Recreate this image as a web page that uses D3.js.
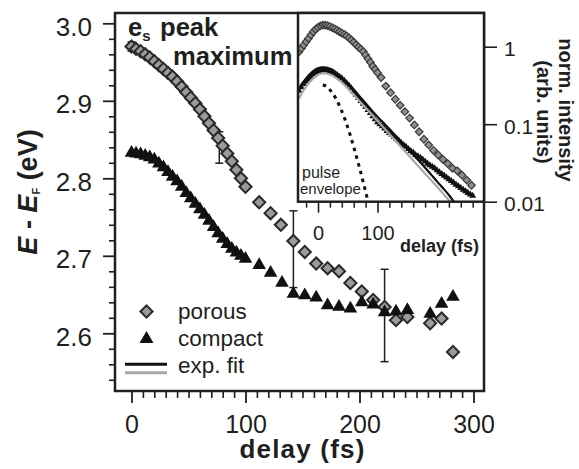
<!DOCTYPE html>
<html>
<head>
<meta charset="utf-8">
<script src="https://cdn.jsdelivr.net/npm/d3@7"></script>
<style>
  html, body { margin: 0; padding: 0; background: #fff; }
  svg { display: block; font-family: "Liberation Sans", Arial, Helvetica, sans-serif; }
</style>
</head>
<body>
<svg id="chart" width="579" height="469"></svg>
<script>
// ---------- main panel: e_s peak maximum energy vs. pump-probe delay ----------
const porousDelay = [0, 4, 8, 12, 16, 20, 24, 28, 32, 36, 40, 44, 48, 52, 56, 60, 64, 68, 72, 76, 80, 84, 88, 92, 96, 100,
  112, 122, 131, 142, 152, 162, 172, 182, 192, 202, 212, 222, 232, 242, 262, 272, 282];
const porousEnergy = [2.970, 2.967, 2.964, 2.960, 2.956, 2.951, 2.946, 2.941, 2.936, 2.931, 2.925, 2.918, 2.911, 2.904, 2.897,
  2.889, 2.880, 2.871, 2.862, 2.852, 2.842, 2.832, 2.822, 2.811, 2.800, 2.789,
  2.769, 2.755, 2.740, 2.719, 2.705, 2.690, 2.684, 2.680, 2.665, 2.654, 2.643, 2.634, 2.617, 2.621, 2.613, 2.619, 2.576];

const compactDelay = [0, 4, 8, 12, 16, 20, 24, 28, 32, 36, 40, 44, 48, 52, 56, 60, 64, 68, 72, 76, 80, 84, 88, 92, 96, 100,
  112, 122, 132, 142, 152, 162, 172, 182, 192, 202, 212, 222, 232, 242, 262, 272, 282];
const compactEnergy = [2.833, 2.832, 2.831, 2.829, 2.827, 2.824, 2.819, 2.814, 2.808, 2.802, 2.796, 2.789, 2.781, 2.774, 2.767,
  2.760, 2.753, 2.745, 2.737, 2.729, 2.722, 2.715, 2.709, 2.704, 2.700, 2.696,
  2.688, 2.678, 2.665, 2.651, 2.649, 2.646, 2.636, 2.634, 2.632, 2.640, 2.637, 2.627, 2.628, 2.630, 2.625, 2.638, 2.647];

// error bars (delay, lower and upper energy)
const errDelay = [0, 77, 142, 222];
const errLow = [2.964, 2.8195, 2.659, 2.5634];
const errHigh = [2.976, 2.860, 2.758, 2.6826];

const mainXTicks = [0, 100, 200, 300];
const mainYTicks = [2.6, 2.7, 2.8, 2.9, 3.0];

// ---------- inset: normalised intensity (log scale) vs. delay ----------
const insetPorousDelay = [-32, -28, -24, -20, -16, -12, -8, -4, 0, 4, 8, 12, 16, 20, 24, 28, 32, 36, 40, 44, 48, 52, 56, 60,
  64, 68, 72, 76, 80, 84, 88, 92, 96, 100, 106, 114, 122, 130, 138, 146, 154, 162, 170, 178, 186, 194, 202, 210, 218,
  226, 234, 242, 250, 258];
const insetPorousInt = [0.86, 0.95, 1.05, 1.16, 1.28, 1.42, 1.56, 1.68, 1.78, 1.86, 1.90, 1.90, 1.87, 1.82, 1.76, 1.70,
  1.63, 1.56, 1.50, 1.44, 1.38, 1.30, 1.22, 1.14, 1.06, 0.99, 0.93, 0.87, 0.78, 0.70, 0.63, 0.56, 0.51, 0.46, 0.40,
  0.31, 0.255, 0.21, 0.175, 0.145, 0.12, 0.098, 0.080, 0.064, 0.054, 0.046, 0.040, 0.035, 0.031, 0.027, 0.025,
  0.022, 0.019, 0.0163];

const insetCompactDelay = [-32, -28, -24, -20, -16, -12, -8, -4, 0, 4, 8, 12, 16, 20, 24, 28, 32, 36, 40, 44, 48, 52, 56,
  60, 64, 68, 72, 76, 80, 84, 88, 92, 96, 100, 104, 108, 112, 116, 120, 124, 128, 132, 136, 140, 144, 148, 152, 156,
  160, 164, 168, 172, 176, 180, 184, 188, 192, 196, 200, 204, 208, 212, 216, 220, 224, 228, 232, 236, 240, 244, 248,
  252, 256, 260];
const insetCompactInt = [0.27, 0.30, 0.33, 0.355, 0.38, 0.41, 0.44, 0.465, 0.485, 0.495, 0.50, 0.50, 0.495, 0.485, 0.47,
  0.45, 0.43, 0.41, 0.39, 0.365, 0.34, 0.315, 0.29, 0.265, 0.24, 0.22, 0.20, 0.183, 0.168, 0.153, 0.14, 0.127, 0.116,
  0.106, 0.100, 0.094, 0.088, 0.082, 0.077, 0.0735, 0.069, 0.065, 0.061, 0.057, 0.054, 0.051, 0.048, 0.045, 0.043,
  0.040, 0.0385, 0.037, 0.035, 0.033, 0.031, 0.0295, 0.0283, 0.027, 0.0255, 0.024, 0.0228, 0.0217, 0.0205, 0.0195,
  0.0185, 0.0175, 0.0166, 0.0158, 0.015, 0.0143, 0.0136, 0.013, 0.0124, 0.0119];

// exponential fits (black and grey)
const fitBlackDelay = [-32, -26, -20, -14, -8, -2, 4, 10, 16, 22, 28, 34, 40, 50, 60, 70, 80, 90, 100, 110, 120, 130, 140,
  150, 160, 170, 180, 190, 200, 210, 220, 230];
const fitBlackInt = [0.29, 0.34, 0.39, 0.44, 0.485, 0.52, 0.538, 0.542, 0.532, 0.51, 0.48, 0.44, 0.40, 0.335, 0.28, 0.228,
  0.186, 0.152, 0.125, 0.104, 0.0865, 0.0715, 0.059, 0.049, 0.0405, 0.0335, 0.0275, 0.0225, 0.0183, 0.015, 0.0122, 0.0096];
const fitGrayDelay = [-32, -26, -20, -14, -8, -2, 4, 10, 16, 22, 28, 34, 40, 50, 60, 70, 80, 90, 100, 110, 120, 130, 140,
  150, 160, 170, 180, 190, 200, 210, 220, 228];
const fitGrayInt = [0.215, 0.26, 0.305, 0.35, 0.39, 0.425, 0.448, 0.455, 0.448, 0.43, 0.405, 0.375, 0.345, 0.29, 0.24,
  0.198, 0.163, 0.134, 0.11, 0.091, 0.075, 0.0615, 0.0505, 0.0415, 0.034, 0.028, 0.023, 0.019, 0.0156, 0.0128, 0.0105,
  0.0092];

// laser pulse envelope (dotted)
const pulseDelay = [8, 15, 22, 30, 38, 46, 54, 62, 70, 78, 86];
const pulseInt = [0.32, 0.305, 0.265, 0.215, 0.16, 0.112, 0.073, 0.045, 0.027, 0.0155, 0.0088];

const insetXTicks = [0, 100];
const insetYTicks = [0.01, 0.1, 1];
const insetYTickLabels = ["0.01", "0.1", "1"];

// ---------- layout ----------
const svg = d3.select("#chart");
const ink = "#1f1f1f";
const frame = { l: 115, r: 484, t: 13, b: 391 };
const inset = { l: 298, r: 484, t: 13, b: 201.7 };

const x = d3.scaleLinear().domain([0, 300]).range([131.5, 473.5]);
const y = d3.scaleLinear().domain([2.6, 3.0]).range([333.3, 23.3]);

const xi = d3.scaleLinear().domain([0, 100]).range([318, 377.5]);
const yi = d3.scaleLog().domain([0.01, 1]).range([201.7, 46.7]);

const diamond = s => d3.symbol(d3.symbolSquare, s * s)();
const triangle = a => d3.symbol(d3.symbolTriangle, a)();

// ---------- main axes ----------
const xMinor = d3.range(0, 301, 10).filter(v => v % 100 !== 0);
svg.append("g").attr("transform", `translate(0,${frame.b})`)
  .call(d3.axisBottom(x).tickValues(xMinor).tickSize(7).tickFormat(""))
  .call(g => g.select(".domain").remove())
  .call(g => g.selectAll("line").attr("stroke", ink).attr("stroke-width", 1.6));
svg.append("g").attr("transform", `translate(0,${frame.b})`)
  .call(d3.axisBottom(x).tickValues(mainXTicks).tickSize(12).tickPadding(12).tickFormat(d3.format("d")))
  .call(g => g.select(".domain").remove())
  .call(g => g.selectAll("line").attr("stroke", ink).attr("stroke-width", 1.8))
  .call(g => g.selectAll("text").attr("fill", ink).attr("font-size", 25).attr("font-family", "Liberation Sans, Arial, sans-serif"));

const yMinor = d3.range(0, 24).map(i => +(2.54 + i * 0.02).toFixed(2)).filter(v => v <= 3.0 && Math.round(v * 100) % 10 !== 0);
svg.append("g").attr("transform", `translate(${frame.l},0)`)
  .call(d3.axisLeft(y).tickValues(yMinor).tickSize(6).tickFormat(""))
  .call(g => g.select(".domain").remove())
  .call(g => g.selectAll("line").attr("stroke", ink).attr("stroke-width", 1.6));
svg.append("g").attr("transform", `translate(${frame.l},0)`)
  .call(d3.axisLeft(y).tickValues(mainYTicks).tickSize(12).tickPadding(11).tickFormat(d3.format(".1f")))
  .call(g => g.select(".domain").remove())
  .call(g => g.selectAll("line").attr("stroke", ink).attr("stroke-width", 1.8))
  .call(g => g.selectAll("text").attr("fill", ink).attr("font-size", 26).attr("dy", "0.45em")
    .attr("font-family", "Liberation Sans, Arial, sans-serif"));

// main frame
svg.append("rect").attr("x", frame.l).attr("y", frame.t)
  .attr("width", frame.r - frame.l).attr("height", frame.b - frame.t)
  .attr("fill", "none").attr("stroke", ink).attr("stroke-width", 2.5);

// ---------- error bars ----------
const eb = svg.append("g").attr("stroke", ink).attr("stroke-width", 1.5);
errDelay.forEach((d, i) => {
  const cx = x(d), y0 = y(errLow[i]), y1 = y(errHigh[i]);
  eb.append("line").attr("x1", cx).attr("x2", cx).attr("y1", y0).attr("y2", y1);
  eb.append("line").attr("x1", cx - 4).attr("x2", cx + 4).attr("y1", y0).attr("y2", y0);
  eb.append("line").attr("x1", cx - 4).attr("x2", cx + 4).attr("y1", y1).attr("y2", y1);
});

// ---------- markers ----------
svg.append("g").selectAll("path").data(porousDelay).join("path")
  .attr("d", diamond(8.6))
  .attr("transform", (d, i) => `translate(${x(d)},${y(porousEnergy[i])}) rotate(45)`)
  .attr("fill", "#9b9b9b").attr("stroke", "#2a2a2a").attr("stroke-width", 2);

svg.append("g").selectAll("path").data(compactDelay).join("path")
  .attr("d", triangle(80))
  .attr("transform", (d, i) => `translate(${x(d)},${y(compactEnergy[i])})`)
  .attr("fill", "#111");

// ---------- title ----------
const title = svg.append("g").attr("fill", ink).attr("font-weight", "bold").attr("font-size", 25.6);
const t1 = title.append("text").attr("x", 128).attr("y", 36);
t1.append("tspan").text("e");
t1.append("tspan").attr("font-size", 15).attr("dy", 5).text("s");
title.append("text").attr("x", 160).attr("y", 36).text("peak");
title.append("text").attr("x", 173).attr("y", 65).text("maximum");

// ---------- legend ----------
const lg = svg.append("g");
lg.append("path").attr("d", diamond(8.6)).attr("transform", "translate(146.5,311.5) rotate(45)")
  .attr("fill", "#9b9b9b").attr("stroke", "#2a2a2a").attr("stroke-width", 2);
lg.append("path").attr("d", triangle(85)).attr("transform", "translate(146.5,339)").attr("fill", "#111");
lg.append("line").attr("x1", 125).attr("x2", 167).attr("y1", 364.3).attr("y2", 364.3)
  .attr("stroke", "#111").attr("stroke-width", 3);
lg.append("line").attr("x1", 125).attr("x2", 167).attr("y1", 372.8).attr("y2", 372.8)
  .attr("stroke", "#a8a8a8").attr("stroke-width", 3);
const lgText = lg.append("g").attr("fill", ink).attr("font-size", 22.5);
lgText.append("text").attr("x", 178).attr("y", 319).text("porous");
lgText.append("text").attr("x", 178).attr("y", 346).text("compact");
lgText.append("text").attr("x", 178).attr("y", 373).text("exp. fit");

// ---------- axis titles ----------
svg.append("text").attr("x", 302.5).attr("y", 458).attr("text-anchor", "middle")
  .attr("font-weight", "bold").attr("font-size", 26).attr("letter-spacing", 1.2).attr("fill", ink)
  .text("delay (fs)");

const yl = svg.append("text").attr("transform", "translate(37,192) rotate(-90)")
  .attr("text-anchor", "middle").attr("font-weight", "bold").attr("font-size", 27).attr("fill", ink);
yl.append("tspan").attr("font-style", "italic").text("E");
yl.append("tspan").text(" - ");
yl.append("tspan").attr("font-style", "italic").text("E");
yl.append("tspan").attr("font-size", 11).attr("dy", 3).text("F");
yl.append("tspan").attr("dy", -3).text(" (eV)");

// ---------- inset ----------
svg.append("rect").attr("x", inset.l).attr("y", inset.t)
  .attr("width", inset.r - inset.l).attr("height", inset.b - inset.t).attr("fill", "#fff");

svg.append("defs").append("clipPath").attr("id", "insetClip")
  .append("rect").attr("x", inset.l).attr("y", inset.t)
  .attr("width", inset.r - inset.l).attr("height", inset.b - inset.t);
const ip = svg.append("g").attr("clip-path", "url(#insetClip)");

ip.append("g").selectAll("path").data(insetPorousDelay).join("path")
  .attr("d", diamond(5.4))
  .attr("transform", (d, i) => `translate(${xi(d)},${yi(insetPorousInt[i])}) rotate(45)`)
  .attr("fill", "#8f8f8f").attr("stroke", "#3a3a3a").attr("stroke-width", 1.2);

ip.append("g").selectAll("path").data(insetCompactDelay).join("path")
  .attr("d", triangle(21))
  .attr("transform", (d, i) => `translate(${xi(d)},${yi(insetCompactInt[i])})`)
  .attr("fill", "#111");

const lineI = d3.line().x(d => xi(d[0])).y(d => yi(d[1])).curve(d3.curveMonotoneX);
ip.append("path").datum(fitGrayDelay.map((d, i) => [d, fitGrayInt[i]]))
  .attr("d", lineI).attr("fill", "none").attr("stroke", "#a8a8a8").attr("stroke-width", 2.2);
ip.append("path").datum(fitBlackDelay.map((d, i) => [d, fitBlackInt[i]]))
  .attr("d", lineI).attr("fill", "none").attr("stroke", "#111").attr("stroke-width", 2.2);
ip.append("path").datum(pulseDelay.map((d, i) => [d, pulseInt[i]]))
  .attr("d", lineI).attr("fill", "none").attr("stroke", "#111").attr("stroke-width", 3)
  .attr("stroke-dasharray", "3.5,4.5");

const it = svg.append("g").attr("fill", ink);
it.append("text").attr("x", 302).attr("y", 178).attr("font-size", 16).text("pulse");
it.append("text").attr("x", 300).attr("y", 193.5).attr("font-size", 15).text("envelope");

svg.append("rect").attr("x", inset.l).attr("y", inset.t)
  .attr("width", inset.r - inset.l).attr("height", inset.b - inset.t)
  .attr("fill", "none").attr("stroke", ink).attr("stroke-width", 2.5);

// inset bottom axis
const xiMinor = d3.range(-20, 261, 20).filter(v => v !== 0 && v !== 100);
svg.append("g").attr("transform", `translate(0,${inset.b})`)
  .call(d3.axisBottom(xi).tickValues(xiMinor).tickSize(6).tickFormat(""))
  .call(g => g.select(".domain").remove())
  .call(g => g.selectAll("line").attr("stroke", ink).attr("stroke-width", 1.5));
svg.append("g").attr("transform", `translate(0,${inset.b})`)
  .call(d3.axisBottom(xi).tickValues(insetXTicks).tickSize(11).tickPadding(13).tickFormat(d3.format("d")))
  .call(g => g.select(".domain").remove())
  .call(g => g.selectAll("line").attr("stroke", ink).attr("stroke-width", 1.6))
  .call(g => g.selectAll("text").attr("fill", ink).attr("font-size", 20)
    .attr("font-family", "Liberation Sans, Arial, sans-serif"));
svg.append("text").attr("x", 479).attr("y", 252).attr("text-anchor", "end")
  .attr("font-weight", "bold").attr("font-size", 18).attr("fill", ink).text("delay (fs)");

// inset right (log) axis
svg.append("g").attr("transform", `translate(${inset.r},0)`)
  .call(d3.axisRight(yi).tickValues(insetYTicks).tickSize(13).tickPadding(7)
    .tickFormat((d, i) => insetYTickLabels[i]))
  .call(g => g.select(".domain").remove())
  .call(g => g.selectAll("line").attr("stroke", ink).attr("stroke-width", 1.6))
  .call(g => g.selectAll("text").attr("fill", ink).attr("font-size", 21).attr("dy", "0.42em")
    .attr("font-family", "Liberation Sans, Arial, sans-serif"));

const rl = svg.append("g").attr("fill", ink).attr("font-weight", "bold").attr("font-size", 20);
rl.append("text").attr("transform", "translate(559,110) rotate(90)").attr("text-anchor", "middle")
  .text("norm. intensity");
rl.append("text").attr("transform", "translate(537,112) rotate(90)").attr("text-anchor", "middle")
  .text("(arb. units)");
</script>
</body>
</html>
